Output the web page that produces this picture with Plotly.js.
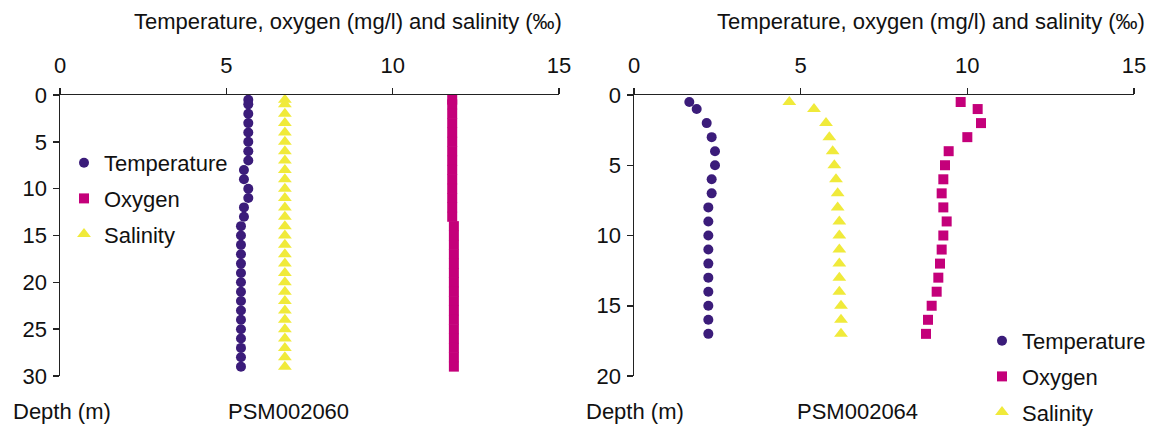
<!DOCTYPE html>
<html>
<head>
<meta charset="utf-8">
<script src="https://cdn.plot.ly/plotly-3.0.1.min.js"></script>
<style>html,body{margin:0;padding:0;background:#fff;}#chart{width:1153px;height:426px;}</style>
</head>
<body>
<div id="chart"></div>
<script>
// ---- Data: station PSM002060 ----
const depthsA = [0.5,1,2,3,4,5,6,7,8,9,10,11,12,13,14,15,16,17,18,19,20,21,22,23,24,25,26,27,28,29];
const temperatureA = [5.66,5.66,5.66,5.66,5.66,5.66,5.66,5.66,5.53,5.53,5.66,5.66,5.53,5.53,5.44,5.44,5.44,5.44,5.44,5.44,5.44,5.44,5.44,5.44,5.44,5.44,5.44,5.44,5.44,5.44];
const oxygenA = [11.79,11.79,11.79,11.79,11.79,11.79,11.79,11.79,11.79,11.79,11.79,11.79,11.79,11.79,11.84,11.84,11.84,11.84,11.84,11.84,11.84,11.84,11.84,11.84,11.84,11.84,11.84,11.84,11.84,11.84];
const salinityA = [6.76,6.76,6.76,6.76,6.76,6.76,6.76,6.76,6.76,6.76,6.76,6.76,6.76,6.76,6.76,6.76,6.76,6.76,6.76,6.76,6.76,6.76,6.76,6.76,6.76,6.76,6.76,6.76,6.76,6.76];

// ---- Data: station PSM002064 ----
const depthsB = [0.5,1,2,3,4,5,6,7,8,9,10,11,12,13,14,15,16,17];
const temperatureB = [1.66,1.88,2.18,2.33,2.43,2.43,2.33,2.33,2.23,2.23,2.23,2.23,2.23,2.23,2.23,2.23,2.23,2.23];
const oxygenB = [9.80,10.31,10.41,10.0,9.44,9.33,9.28,9.23,9.28,9.38,9.28,9.23,9.18,9.13,9.08,8.93,8.82,8.76];
const salinityB = [4.66,5.40,5.76,5.86,5.96,6.01,6.06,6.11,6.11,6.16,6.16,6.16,6.16,6.16,6.16,6.21,6.21,6.21];

const seriesNames = ["Temperature", "Oxygen", "Salinity"];
const stationNames = ["PSM002060", "PSM002064"];
const xTitle = "Temperature, oxygen (mg/l) and salinity (‰)";
const yTitle = "Depth (m)";
const xTicks = [0, 5, 10, 15];
const yTicksA = [0, 5, 10, 15, 20, 25, 30];
const yTicksB = [0, 5, 10, 15, 20];

const colors = {Temperature: "#3b1c7a", Oxygen: "#c4007a", Salinity: "#f0ea3a"};
const symbols = {Temperature: "circle", Oxygen: "square", Salinity: "triangle-up"};
const sizes = {Temperature: 10, Oxygen: 10, Salinity: 12};

function mk(name, x, y, xa, ya, leg) {
  return {
    type: "scatter", mode: "markers", name: name, x: x, y: y,
    xaxis: xa, yaxis: ya, legend: leg, legendgroup: name + leg,
    marker: {symbol: symbols[name], color: colors[name], size: sizes[name], line: {width: 0}},
    cliponaxis: false
  };
}

const traces = [
  mk(seriesNames[0], temperatureA, depthsA, "x", "y", "legend"),
  mk(seriesNames[1], oxygenA, depthsA, "x", "y", "legend"),
  mk(seriesNames[2], salinityA, depthsA, "x", "y", "legend"),
  mk(seriesNames[0], temperatureB, depthsB, "x2", "y2", "legend2"),
  mk(seriesNames[1], oxygenB, depthsB, "x2", "y2", "legend2"),
  mk(seriesNames[2], salinityB, depthsB, "x2", "y2", "legend2")
];

const FONT = "Liberation Sans, Arial, sans-serif";
const FS = 22;
const W = 1153, H = 426;
const yDom = [1 - 376 / H, 1 - 95 / H];

function xaxisCfg(dom, anchor) {
  return {
    domain: dom, anchor: anchor, side: "top", range: [0, 15],
    tickvals: xTicks, ticktext: xTicks.map(String),
    ticks: "outside", ticklen: 6, tickwidth: 1.5, tickcolor: "#222",
    showline: true, linecolor: "#222", linewidth: 1.5,
    showgrid: false, zeroline: false, ticklabelstandoff: 6,
    tickfont: {family: FONT, size: FS, color: "#111"}
  };
}
function yaxisCfg(range, ticks, anchor) {
  return {
    domain: yDom, anchor: anchor, range: range,
    tickvals: ticks, ticktext: ticks.map(String),
    ticks: "outside", ticklen: 6, tickwidth: 1.5, tickcolor: "#222",
    showline: true, linecolor: "#222", linewidth: 1.5,
    showgrid: false, zeroline: false, ticklabelstandoff: 1,
    tickfont: {family: FONT, size: FS, color: "#111"}
  };
}

const legendCfg = (xpx, ypx) => ({
  x: xpx / W, y: 1 - ypx / H, xanchor: "left", yanchor: "top",
  bgcolor: "rgba(0,0,0,0)", borderwidth: 0,
  font: {family: FONT, size: FS, color: "#111"},
  tracegroupgap: 4, itemclick: false, itemdoubleclick: false
});

const ann = (text, xpx, ypx, anchor) => ({
  text: text, xref: "paper", yref: "paper", x: xpx / W, y: 1 - ypx / H,
  xanchor: anchor, yanchor: "middle", showarrow: false,
  font: {family: FONT, size: FS, color: "#111"}
});

const layout = {
  width: W, height: H,
  margin: {l: 0, r: 0, t: 0, b: 0, autoexpand: false},
  paper_bgcolor: "#fff", plot_bgcolor: "#fff",
  showlegend: true,
  xaxis: xaxisCfg([60 / W, 559 / W], "y"),
  yaxis: yaxisCfg([30, 0], yTicksA, "x"),
  xaxis2: xaxisCfg([634 / W, 1134 / W], "y2"),
  yaxis2: yaxisCfg([20, 0], yTicksB, "x2"),
  legend: legendCfg(64, 142),
  legend2: legendCfg(982, 320),
  annotations: [
    ann(xTitle, 564, 22, "right"),
    ann(xTitle, 1147, 22, "right"),
    ann(yTitle, 11, 411, "left"),
    ann(yTitle, 584, 411, "left"),
    ann(stationNames[0], 288, 411, "center"),
    ann(stationNames[1], 857, 411, "center")
  ]
};

Plotly.newPlot("chart", traces, layout, {staticPlot: true, displayModeBar: false});
</script>
</body>
</html>
